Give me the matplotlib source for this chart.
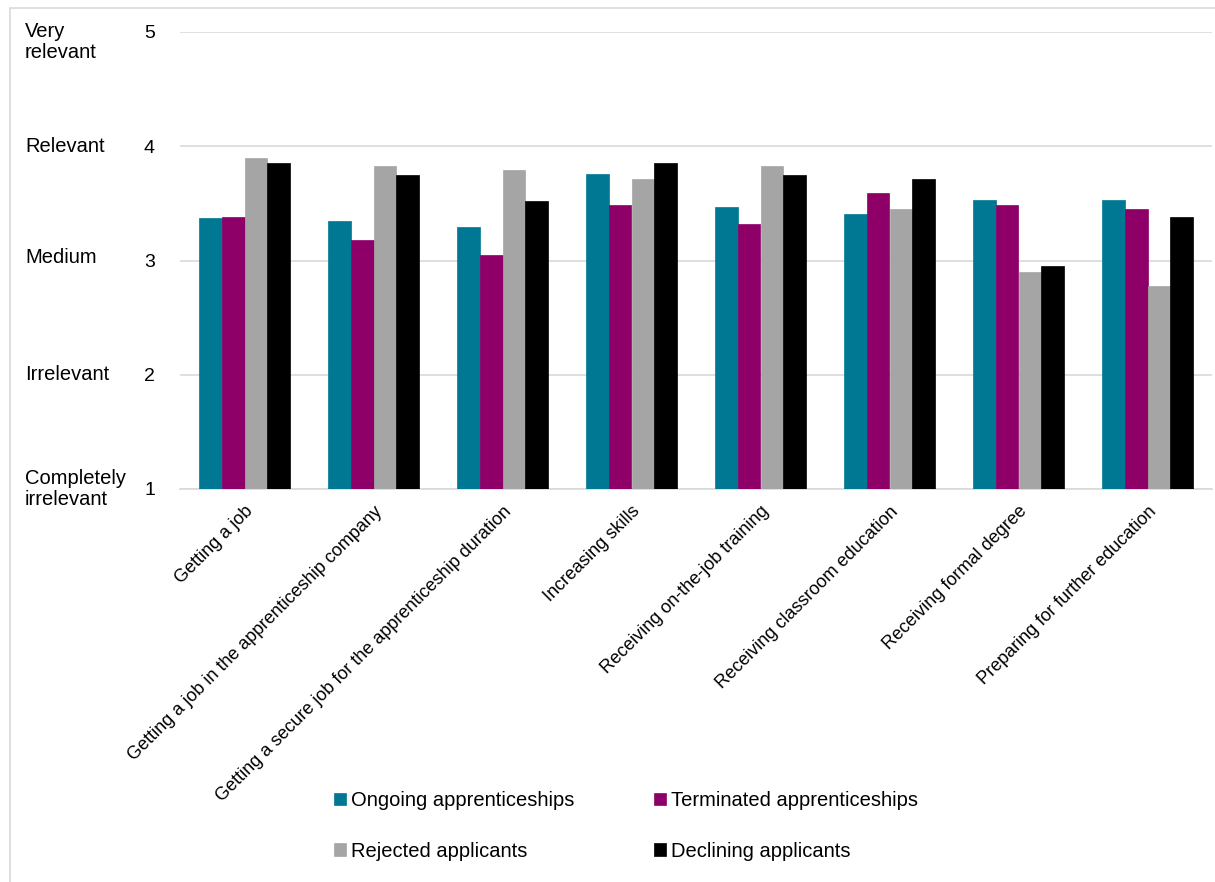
import matplotlib
matplotlib.use("Agg")
import matplotlib.pyplot as plt
import numpy as np
from matplotlib.patches import Rectangle
import matplotlib.transforms as mtransforms

plt.rcParams['font.family'] = ['Liberation Sans', 'DejaVu Sans']

categories = ["Getting a job",
              "Getting a job in the apprenticeship company",
              "Getting a secure job for the apprenticeship duration",
              "Increasing skills",
              "Receiving on-the-job training",
              "Receiving classroom education",
              "Receiving formal degree",
              "Preparing for further education"]
series_names = ["Ongoing apprenticeships", "Terminated apprenticeships",
                "Rejected applicants", "Declining applicants"]
ongoing = [3.37, 3.35, 3.29, 3.76, 3.47, 3.41, 3.53, 3.53]
terminated = [3.38, 3.18, 3.05, 3.49, 3.32, 3.59, 3.49, 3.45]
rejected = [3.90, 3.83, 3.79, 3.71, 3.83, 3.45, 2.90, 2.78]
declining = [3.85, 3.75, 3.52, 3.85, 3.75, 3.71, 2.95, 3.38]
colors = ["#007894", "#8E0068", "#A5A5A5", "#000000"]
y_ticks = [1, 2, 3, 4, 5]
y_labels = ["Completely\nirrelevant", "Irrelevant", "Medium", "Relevant", "Very\nrelevant"]

W, H = 1215, 882
fig = plt.figure(figsize=(W / 100, H / 100), dpi=100)
ax = fig.add_axes([180 / W, 1 - 489 / H, (1212 - 180) / W, (489 - 32) / H])

# outer frame
fig.patches.append(Rectangle((10 / W, -0.01), 1.2, 1 - 8 / H + 0.01, transform=fig.transFigure,
                             fill=False, edgecolor="#D9D9D9", linewidth=1.2))

x = np.arange(len(categories))
bw = 0.175
data = [ongoing, terminated, rejected, declining]
for i, (vals, c, name) in enumerate(zip(data, colors, series_names)):
    ax.bar(x + (i - 1.5) * bw, np.array(vals) - 1, bottom=1, width=bw, color=c,
           label=name, edgecolor=c, linewidth=0.5, zorder=3)

ax.set_xlim(-0.5, len(categories) - 0.5)
ax.set_ylim(1, 5)
ax.set_yticks(y_ticks)
ax.set_yticklabels([str(t) for t in y_ticks], fontsize=14)
ax.yaxis.grid(True, color="#D9D9D9", linewidth=1.2, zorder=0)
ax.tick_params(axis='y', length=0, pad=18)
for s in ["top", "right", "left"]:
    ax.spines[s].set_visible(False)
ax.spines["bottom"].set_color("#D9D9D9")
ax.spines["bottom"].set_linewidth(1.2)

ax.set_xticks(x)
ax.set_xticklabels(categories, rotation=45, ha="right", rotation_mode="anchor", fontsize=13)
ax.tick_params(axis='x', length=0, pad=10)

trans = mtransforms.blended_transform_factory(fig.transFigure, ax.transData)
label_pos = [1.0, 2.0, 3.03, 4.0, 4.91]
for yv, lab in zip(label_pos, y_labels):
    fig.text(25 / W, yv, lab, transform=trans, ha="left", va="center", fontsize=14.5,
             linespacing=1.15)

handles, labels = ax.get_legend_handles_labels()
order = [0, 2, 1, 3]
leg = fig.legend([handles[k] for k in order], [labels[k] for k in order], ncol=2,
                 loc="center", bbox_to_anchor=(626 / W, 1 - 826 / H),
                 frameon=False, fontsize=14.5, handlelength=0.55, handleheight=0.55,
                 handletextpad=0.25, columnspacing=4.0, labelspacing=1.55)

fig.savefig("out.png", dpi=100)
